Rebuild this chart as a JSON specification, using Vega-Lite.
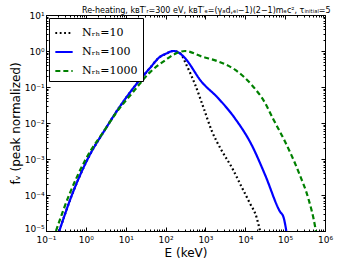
{
  "$schema": "https://vega.github.io/schema/vega-lite/v6.json",
  "width": 279,
  "height": 216,
  "autosize": {"type": "none"},
  "padding": {"left": 46, "top": 15, "right": 15, "bottom": 36},
  "background": "white",
  "title": {"text": "Re-heating, kʙT′ᵣ=300 eV, kʙT′ₑ=(γₐd,ₑₗ−1)(2−1)mₑc², τᵢₙᵢₜᵢₐₗ=5", "fontSize": 8, "font": "DejaVu Sans", "fontWeight": "normal", "color": "black", "anchor": "end", "offset": -4, "dx": -2},
  "config": {
    "view": {"stroke": "black", "strokeWidth": 1},
    "axis": {"grid": false, "domainColor": "black", "tickColor": "black", "labelColor": "black", "titleColor": "black", "labelFont": "DejaVu Sans", "titleFont": "DejaVu Sans", "labelFontSize": 9, "titleFontSize": 12, "titleFontWeight": "normal"}
  },
  "datasets": {
    "curves": [
      {"N": "Nᵣₕ=10", "E": 0.2153, "f": 0.00001},
      {"N": "Nᵣₕ=10", "E": 0.4467, "f": 0.0001},
      {"N": "Nᵣₕ=10", "E": 1.109, "f": 0.001},
      {"N": "Nᵣₕ=10", "E": 3.162, "f": 0.007079},
      {"N": "Nᵣₕ=10", "E": 5.888, "f": 0.02089},
      {"N": "Nᵣₕ=10", "E": 15.49, "f": 0.09333},
      {"N": "Nᵣₕ=10", "E": 40.74, "f": 0.3388},
      {"N": "Nᵣₕ=10", "E": 70.79, "f": 0.6761},
      {"N": "Nᵣₕ=10", "E": 104.7, "f": 0.8511},
      {"N": "Nᵣₕ=10", "E": 158.5, "f": 1.0},
      {"N": "Nᵣₕ=10", "E": 229.1, "f": 0.871},
      {"N": "Nᵣₕ=10", "E": 354.8, "f": 0.3548},
      {"N": "Nᵣₕ=10", "E": 549.5, "f": 0.1175},
      {"N": "Nᵣₕ=10", "E": 891.3, "f": 0.02692},
      {"N": "Nᵣₕ=10", "E": 1445, "f": 0.006026},
      {"N": "Nᵣₕ=10", "E": 2570, "f": 0.001698},
      {"N": "Nᵣₕ=10", "E": 4571, "f": 0.0005888},
      {"N": "Nᵣₕ=10", "E": 8128, "f": 0.000166},
      {"N": "Nᵣₕ=10", "E": 13183, "f": 0.00005754},
      {"N": "Nᵣₕ=10", "E": 19055, "f": 0.00002455},
      {"N": "Nᵣₕ=10", "E": 23442, "f": 0.00001},
      {"N": "Nᵣₕ=100", "E": 0.2153, "f": 0.00001},
      {"N": "Nᵣₕ=100", "E": 0.4467, "f": 0.0001},
      {"N": "Nᵣₕ=100", "E": 1.109, "f": 0.001},
      {"N": "Nᵣₕ=100", "E": 3.162, "f": 0.007079},
      {"N": "Nᵣₕ=100", "E": 5.888, "f": 0.02089},
      {"N": "Nᵣₕ=100", "E": 15.49, "f": 0.09333},
      {"N": "Nᵣₕ=100", "E": 40.74, "f": 0.3388},
      {"N": "Nᵣₕ=100", "E": 70.79, "f": 0.6761},
      {"N": "Nᵣₕ=100", "E": 104.7, "f": 0.8511},
      {"N": "Nᵣₕ=100", "E": 154.9, "f": 1.0},
      {"N": "Nᵣₕ=100", "E": 223.9, "f": 0.871},
      {"N": "Nᵣₕ=100", "E": 302.0, "f": 0.6457},
      {"N": "Nᵣₕ=100", "E": 794.3, "f": 0.1413},
      {"N": "Nᵣₕ=100", "E": 2089, "f": 0.04898},
      {"N": "Nᵣₕ=100", "E": 5495, "f": 0.01349},
      {"N": "Nᵣₕ=100", "E": 14454, "f": 0.002455},
      {"N": "Nᵣₕ=100", "E": 31623, "f": 0.0003548},
      {"N": "Nᵣₕ=100", "E": 74131, "f": 0.00003467},
      {"N": "Nᵣₕ=100", "E": 91201, "f": 0.00002399},
      {"N": "Nᵣₕ=100", "E": 107152, "f": 0.00001},
      {"N": "Nᵣₕ=1000", "E": 0.1778, "f": 0.00001},
      {"N": "Nᵣₕ=1000", "E": 0.3802, "f": 0.0001},
      {"N": "Nᵣₕ=1000", "E": 1.0, "f": 0.001},
      {"N": "Nᵣₕ=1000", "E": 3.162, "f": 0.007079},
      {"N": "Nᵣₕ=1000", "E": 5.888, "f": 0.01995},
      {"N": "Nᵣₕ=1000", "E": 15.85, "f": 0.07586},
      {"N": "Nᵣₕ=1000", "E": 39.81, "f": 0.2512},
      {"N": "Nᵣₕ=1000", "E": 100, "f": 0.5623},
      {"N": "Nᵣₕ=1000", "E": 158.5, "f": 0.7943},
      {"N": "Nᵣₕ=1000", "E": 309.0, "f": 1.0},
      {"N": "Nᵣₕ=1000", "E": 794.3, "f": 0.7079},
      {"N": "Nᵣₕ=1000", "E": 2089, "f": 0.5129},
      {"N": "Nᵣₕ=1000", "E": 5495, "f": 0.302},
      {"N": "Nᵣₕ=1000", "E": 14454, "f": 0.1148},
      {"N": "Nᵣₕ=1000", "E": 31623, "f": 0.03548},
      {"N": "Nᵣₕ=1000", "E": 50119, "f": 0.01288},
      {"N": "Nᵣₕ=1000", "E": 97724, "f": 0.003162},
      {"N": "Nᵣₕ=1000", "E": 144544, "f": 0.001259},
      {"N": "Nᵣₕ=1000", "E": 234423, "f": 0.0003548},
      {"N": "Nᵣₕ=1000", "E": 380189, "f": 0.00008128},
      {"N": "Nᵣₕ=1000", "E": 562341, "f": 0.00001349},
      {"N": "Nᵣₕ=1000", "E": 588844, "f": 0.00001}
    ]
  },
  "data": {"name": "curves"},
  "layer": [
    {
      "mark": {"type": "line", "clip": true, "strokeWidth": 2.2, "interpolate": "monotone"},
      "encoding": {
        "x": {"field": "E", "type": "quantitative", "scale": {"type": "log", "domain": [0.1, 1000000], "nice": false},
          "axis": {"orient": "bottom", "title": "E (keV)", "titlePadding": 1,
            "values": [0.1,0.2,0.3,0.4,0.5,0.6,0.7,0.8,0.9,1,2,3,4,5,6,7,8,9,10,20,30,40,50,60,70,80,90,100,200,300,400,500,600,700,800,900,1000,2000,3000,4000,5000,6000,7000,8000,9000,10000,20000,30000,40000,50000,60000,70000,80000,90000,100000,200000,300000,400000,500000,600000,700000,800000,900000,1000000],
            "labelExpr": "abs(log(datum.value)/LN10 - round(log(datum.value)/LN10)) < 0.001 ? '10' + ['⁻⁵','⁻⁴','⁻³','⁻²','⁻¹','⁰','¹','²','³','⁴','⁵','⁶'][round(log(datum.value)/LN10)+5] : ''",
            "tickSize": {"condition": {"test": "abs(log(datum.value)/LN10 - round(log(datum.value)/LN10)) < 0.001", "value": -4}, "value": -2},
            "labelPadding": 8, "labelFlush": false, "labelOverlap": false}},
        "y": {"field": "f", "type": "quantitative", "scale": {"type": "log", "domain": [0.00001, 10], "nice": false},
          "axis": {"orient": "left", "title": "fᵥ (peak normalized)", "titlePadding": 2,
            "values": [0.00001,0.00002,0.00003,0.00004,0.00005,0.00006,0.00007,0.00008,0.00009,0.0001,0.0002,0.0003,0.0004,0.0005,0.0006,0.0007,0.0008,0.0009,0.001,0.002,0.003,0.004,0.005,0.006,0.007,0.008,0.009,0.01,0.02,0.03,0.04,0.05,0.06,0.07,0.08,0.09,0.1,0.2,0.3,0.4,0.5,0.6,0.7,0.8,0.9,1,2,3,4,5,6,7,8,9,10],
            "labelExpr": "abs(log(datum.value)/LN10 - round(log(datum.value)/LN10)) < 0.001 ? '10' + ['⁻⁵','⁻⁴','⁻³','⁻²','⁻¹','⁰','¹','²','³','⁴','⁵','⁶'][round(log(datum.value)/LN10)+5] : ''",
            "tickSize": {"condition": {"test": "abs(log(datum.value)/LN10 - round(log(datum.value)/LN10)) < 0.001", "value": -4}, "value": -2},
            "labelOffset": {"condition": {"test": "datum.value < 0.000011", "value": -3}, "value": 0},
            "labelPadding": 6, "labelFlush": false, "labelOverlap": false, "labelBaseline": "middle"}},
        "color": {"field": "N", "type": "nominal", "scale": {"domain": ["Nᵣₕ=10", "Nᵣₕ=100", "Nᵣₕ=1000"], "range": ["black", "#0000ff", "#008000"]},
          "legend": {"title": null, "orient": "top-left", "offset": 3, "strokeColor": "black", "fillColor": "white", "padding": 5, "symbolType": "stroke", "symbolSize": 300, "symbolStrokeWidth": 2.2, "labelFont": "DejaVu Serif", "labelFontSize": 11, "labelColor": "black", "rowPadding": 4, "labelOffset": 8, "cornerRadius": 0}},
        "strokeDash": {"field": "N", "type": "nominal", "scale": {"domain": ["Nᵣₕ=10", "Nᵣₕ=100", "Nᵣₕ=1000"], "range": [[1.8, 2.6], [1, 0], [5, 3]]}, "legend": null}
      }
    },
    {
      "mark": {"type": "line", "opacity": 0},
      "encoding": {
        "x": {"field": "E", "type": "quantitative",
          "axis": {"orient": "top", "title": null, "labels": false, "domain": false,
            "values": [0.1,0.2,0.3,0.4,0.5,0.6,0.7,0.8,0.9,1,2,3,4,5,6,7,8,9,10,20,30,40,50,60,70,80,90,100,200,300,400,500,600,700,800,900,1000,2000,3000,4000,5000,6000,7000,8000,9000,10000,20000,30000,40000,50000,60000,70000,80000,90000,100000,200000,300000,400000,500000,600000,700000,800000,900000,1000000],
            "tickSize": {"condition": {"test": "abs(log(datum.value)/LN10 - round(log(datum.value)/LN10)) < 0.001", "value": -4}, "value": -2}}},
        "y": {"field": "f", "type": "quantitative",
          "axis": {"orient": "right", "title": null, "labels": false, "domain": false,
            "values": [0.00001,0.00002,0.00003,0.00004,0.00005,0.00006,0.00007,0.00008,0.00009,0.0001,0.0002,0.0003,0.0004,0.0005,0.0006,0.0007,0.0008,0.0009,0.001,0.002,0.003,0.004,0.005,0.006,0.007,0.008,0.009,0.01,0.02,0.03,0.04,0.05,0.06,0.07,0.08,0.09,0.1,0.2,0.3,0.4,0.5,0.6,0.7,0.8,0.9,1,2,3,4,5,6,7,8,9,10],
            "tickSize": {"condition": {"test": "abs(log(datum.value)/LN10 - round(log(datum.value)/LN10)) < 0.001", "value": -4}, "value": -2}}},
        "detail": {"field": "N", "type": "nominal"}
      }
    }
  ],
  "resolve": {"axis": {"x": "independent", "y": "independent"}}
}
